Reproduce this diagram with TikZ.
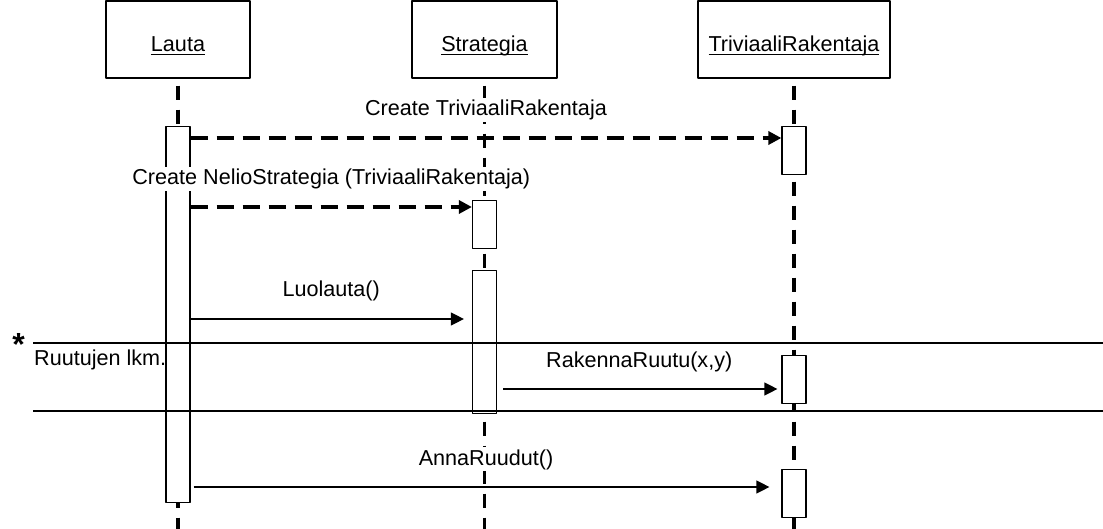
\documentclass[tikz,border=0pt]{standalone}
\usepackage{fontspec}
\setmainfont{Liberation Sans}
\usetikzlibrary{arrows.meta}
\newcommand\ulin[1]{\setbox0=\hbox{#1}\rlap{\rule[-3.2pt]{\wd0}{1.3pt}}\box0}
\begin{document}
\begin{tikzpicture}[x = 1pt, y = -1pt, line join = round, font = \fontsize{21.6}{26}\selectfont,
	head/.style = {draw, line width = 1.2pt, minimum height = 77pt, text height = 25pt, text depth = 0pt},
	act/.style = {draw, fill = white, line width = 1.2pt, minimum width = 24pt, inner sep = 0pt, anchor = north},
	life/.style = {line width = 3.2pt, dash pattern = on 14pt off 10pt, dash phase = 17pt},
	call/.style = {line width = 1.3pt, -{Triangle[length = 13pt, width = 13pt]}},
	create/.style = {call, line width = 3.2pt, dash pattern = on 17pt off 9pt},
	msg/.style = {fill = white, inner sep = 2pt, anchor = base, yshift = 22pt}]
	\useasboundingbox (0,0) rectangle (1103,529);
	\node[head, minimum width = 144pt] (lauta) at (178,39.5) {\ulin{Lauta}};
	\node[head, minimum width = 145pt] (strat) at (484.5,39.5) {\ulin{Strategia}};
	\node[head, minimum width = 192pt] (triv) at (794,39.5) {\ulin{TriviaaliRakentaja}};
	\path
	(0,529) coordinate (bot)
	(0,138) coordinate (m1)
	(0,207) coordinate (m2)
	(0,319) coordinate (m3)
	(0,389) coordinate (m4)
	(0,487) coordinate (m5)
	(33,343) coordinate (F1) (1103,343) coordinate (F2)
	(33,411) coordinate (F3) (1103,411) coordinate (F4)
	;
	% lifelines
	\foreach \h in {lauta,strat,triv}
	\draw[life] (\h.south) -- (\h.south |- bot);
	% activations
	\node[act, minimum height = 376pt] (aL) at (178,126) {};
	\node[act, minimum height = 48pt] (aS1) at (484.5,200) {};
	\node[act, minimum height = 143pt] (aS2) at (484.5,270) {};
	\node[act, minimum height = 48pt] (aT1) at (794,126) {};
	\node[act, minimum height = 48pt] (aT2) at (794,355) {};
	\node[act, minimum height = 48pt] (aT3) at (794,469) {};
	% loop frame
	\draw[line width = 2pt]
	(F1)--(F2)
	(F3)--(F4)
	;
	\node[anchor = base, inner sep = 0pt, font = \fontsize{32}{32}\selectfont\bfseries] (star) at (18.5,355) {*};
	\node[anchor = base west, inner sep = 0pt] (count) at (34,365) {Ruutujen lkm.};
	% messages
	\draw[create] (aL.east |- m1) -- node[msg] (l1) {Create TriviaaliRakentaja} (aT1.west |- m1);
	\draw[create] (aL.east |- m2) -- node[msg] (l2) {Create NelioStrategia (TriviaaliRakentaja)} (aS1.west |- m2);
	\draw[call, shorten >= 8pt] (aL.east |- m3) -- node[msg] (l3) {Luolauta()} (aS2.west |- m3);
	\draw[call, shorten <= 6pt, shorten >= 4pt] (aS2.east |- m4) -- node[msg] (l4) {RakennaRuutu(x,y)} (aT2.west |- m4);
	\draw[call, shorten <= 3pt, shorten >= 12pt] (aL.east |- m5) -- node[msg] (l5) {AnnaRuudut()} (aT3.west |- m5);
\end{tikzpicture}
\end{document}
